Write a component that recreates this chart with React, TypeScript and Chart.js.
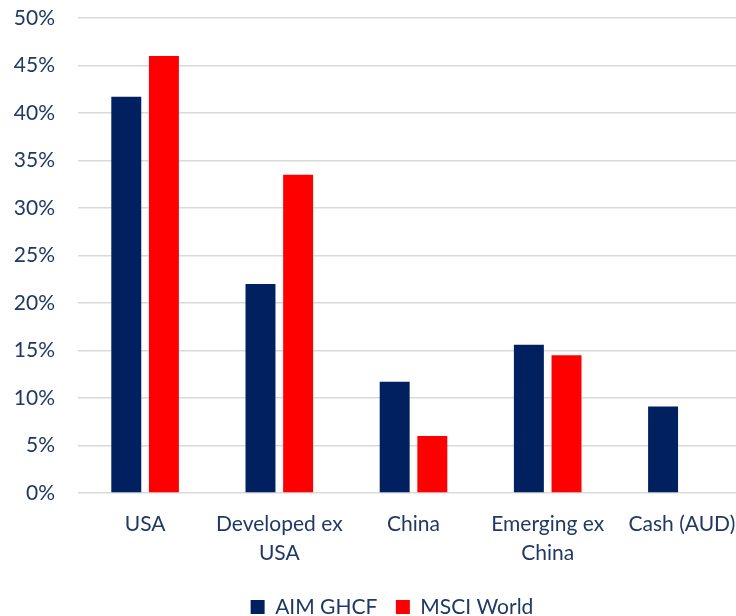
import React, { useEffect, useRef } from "react";
import { Chart, registerables } from "chart.js";

Chart.register(...registerables);

const categories: (string | string[])[] = ["USA", ["Developed ex", "USA"], "China", ["Emerging ex", "China"], "Cash (AUD)"];
const aimGhcf = [41.7, 22.0, 11.7, 15.6, 9.1];
const msciWorld = [46.0, 33.5, 6.0, 14.5, null];
const seriesNames = ["AIM GHCF", "MSCI World"];

const NAVY = "#002060";
const RED = "#FF0000";
const TEXT = "#1F3864";
const FONT = "Lato, 'Open Sans', sans-serif";

export default function App() {
  const ref = useRef<HTMLCanvasElement | null>(null);
  useEffect(() => {
    if (!ref.current) return;
    const chart = new Chart(ref.current, {
      type: "bar",
      data: {
        labels: categories,
        datasets: [
          { label: seriesNames[0], data: aimGhcf, backgroundColor: NAVY, categoryPercentage: 0.561, barPercentage: 0.796 },
          { label: seriesNames[1], data: msciWorld as any, backgroundColor: RED, categoryPercentage: 0.561, barPercentage: 0.796 },
        ],
      },
      options: {
        responsive: false,
        animation: false,
        layout: { padding: { top: 18, right: 0, left: 0, bottom: -11.5 } },
        plugins: {
          tooltip: { enabled: false },
          legend: {
            position: "bottom",
            labels: {
              boxWidth: 14,
              boxHeight: 14,
              padding: 18.5,
              color: TEXT,
              font: { family: FONT, size: 21 },
            },
          },
        },
        scales: {
          x: {
            grid: { display: false, drawTicks: false },
            border: { display: false },
            ticks: { color: TEXT, font: { family: FONT, size: 21, lineHeight: 1.36 }, maxRotation: 0, autoSkip: false, padding: 17 },
            afterFit: (s: any) => {
              s.height = 85;
            },
          },
          y: {
            min: 0,
            max: 50,
            border: { display: false },
            grid: { color: "#D9D9D9", lineWidth: 1.5, drawTicks: false },
            ticks: {
              stepSize: 5,
              color: TEXT,
              padding: 23,
              font: { family: FONT, size: 21 },
              callback: (v: any) => v + "%",
            },
            afterFit: (s: any) => {
              s.width = 78;
              s.paddingTop = 0;
              s.paddingBottom = 0;
            },
          },
          yRight: {
            position: "right",
            grid: { display: false, drawTicks: false },
            border: { display: false },
            ticks: { display: false },
            afterFit: (s: any) => {
              s.width = 35;
              s.paddingTop = 0;
              s.paddingBottom = 0;
            },
          },
        },
      },
    });
    return () => chart.destroy();
  }, []);
  return (
    <div style={{ position: "fixed", left: 0, top: 0, width: 736, height: 616, overflow: "hidden", background: "#fff" }}>
      <canvas ref={ref} width={784} height={616} style={{ display: "block" }} />
    </div>
  );
}
